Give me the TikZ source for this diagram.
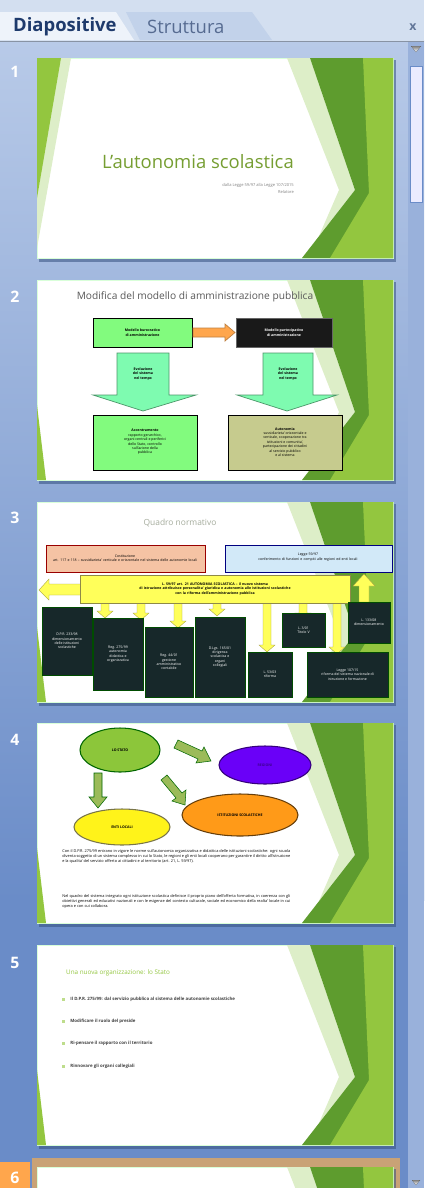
\documentclass[tikz,border=0pt]{standalone}
\usepackage{fontspec}
\setmainfont{Open Sans}
\usetikzlibrary{shapes.geometric,positioning}

\definecolor{tabbar}{HTML}{D3DFF0}
\definecolor{tabon}{HTML}{EEF3FA}
\definecolor{taboff}{HTML}{C2D2EA}
\definecolor{tabink}{HTML}{1E3A6C}
\definecolor{panelhi}{HTML}{B8CAE8}
\definecolor{panello}{HTML}{6A8CC8}
\definecolor{shade}{HTML}{34507E}
\definecolor{leafdark}{HTML}{5E9C2E}
\definecolor{leaflime}{HTML}{93C63F}
\definecolor{leafpale}{HTML}{DDEEC8}
\definecolor{mint}{HTML}{7EFBB0}
\definecolor{apple}{HTML}{82FB7E}
\definecolor{olivebox}{HTML}{C6CB8E}
\definecolor{salmon}{HTML}{F5C3A4}
\definecolor{skybox}{HTML}{D2E9F8}
\definecolor{lemon}{HTML}{FFFF5A}
\definecolor{nightbox}{HTML}{17282A}
\definecolor{arrowolive}{HTML}{9BBB59}
\definecolor{greenov}{HTML}{8CC63A}
\definecolor{violetov}{HTML}{6A00F8}
\definecolor{orangeov}{HTML}{FF9A18}
\definecolor{selframe}{HTML}{C9A276}

\newcommand{\microfont}{\fontsize{2pt}{2.5pt}\selectfont}

\tikzset{
  slidebox/.style={draw=white!85!green, line width=0.4pt, fill=white},
  slideshadow/.style={fill=shade, opacity=0.55},
  slidenum/.style={text=white, font=\bfseries\fontsize{9pt}{9pt}\selectfont},
  tablabel/.style={text=tabink, font=\bfseries\fontsize{10.5pt}{10.5pt}\selectfont},
  darkbox/.style={draw=black!70!green, fill=nightbox, text=white, align=center, font=\microfont},
  yarrow/.style={fill=lemon, draw=yellow!60!black, line width=0.2pt},
  garrow/.style={fill=arrowolive, draw=black!60!green, line width=0.3pt},
  oval/.style={ellipse, draw, line width=0.6pt, font=\bfseries\microfont},
}

% green facet decoration, slide-relative (356 x 200)
\newcommand{\facetright}{%
  \fill[leafpale] (250,0) -- (273,0) -- (318,132) -- (282,178) -- (302,132) -- cycle;
  \fill[leafdark] (273,0) -- (356,0) -- (356,200) -- (265,200) -- (318,132) -- cycle;
  \fill[leaflime] (326,0) -- (356,0) -- (356,200) -- (293,200) -- (332,135) -- cycle;
}
\newcommand{\facetlow}{%
  \fill[leaflime] (0,125) -- (9,200) -- (0,200) -- cycle;
}
% block arrow pointing down
\newcommand{\blockdown}[4]{% x, top, bottom, style
  \draw[#4] (#1-4,#2) -- (#1+4,#2) -- (#1+4,#3-7) -- (#1+8,#3-7) -- (#1,#3)
    -- (#1-8,#3-7) -- (#1-4,#3-7) -- cycle;
}

\begin{document}
\begin{tikzpicture}[x=0.02cm,y=-0.02cm]
  \useasboundingbox (0,0) rectangle (424,1188);

  % panel and scroll bar
  \shade[top color=panelhi, bottom color=panello] (0,40) rectangle (424,900);
  \fill[panello] (0,899) rectangle (424,1188);
  \fill[panelhi!60!panello] (408,40) rectangle (424,1188);
  \fill[shade] (411,46) -- (421,46) -- (416,52) -- cycle;
  \fill[white!92!blue, draw=panello] (410,66) rectangle (422,202);
  \fill[shade] (412,1180) -- (420,1180) -- (416,1185) -- cycle;

  % tabs
  \fill[tabbar] (0,0) rectangle (424,42);
  \fill[taboff] (126,12) -- (252,12) -- (272,40) -- (140,40) -- cycle;
  \fill[tabon] (0,12) -- (116,12) -- (134,40) -- (0,40) -- cycle;
  \draw[taboff!70!black, line width=0.3pt] (0,41) -- (424,41);
  \node[tablabel, anchor=west] (tabslides) at (7,27) {Diapositive};
  \node[tablabel, text=tabink!75!white, font=\fontsize{10.5pt}{10.5pt}\selectfont,
        anchor=west] (taboutline) at (141,27) {Struttura};
  \node[text=tabink!70!white, font=\bfseries\fontsize{7pt}{7pt}\selectfont] (closetab) at (413,27) {x};

  % selected slide 6
  \fill[selframe] (32,1158) rectangle (400,1188);
  \fill[orange!70!white] (0,1162) rectangle (30,1188);

  % slide numbers
  \foreach \n/\yy in {1/72,2/297,3/518,4/740,5/963,6/1178}
    \node[slidenum] (num\n) at (15,\yy) {\n};

  % frames
  \foreach \yy in {58,280,502,723,945,1167} {
    \fill[slideshadow] (39,\yy+2) rectangle (396,\yy+204);
    \draw[slidebox] (37,\yy) rectangle (393,\yy+200);
  }

  % slide 1
  \begin{scope}[shift={(37,58)}]
    \facetright
    \fill[leafpale] (22,0) -- (34,0) -- (0,190) -- (0,140) -- cycle;
    \fill[leaflime] (0,0) -- (24,0) -- (0,140) -- cycle;
    \node[text=leaflime!80!black, font=\fontsize{10.5pt}{10.5pt}\selectfont, anchor=east]
      (title1) at (263,104) {L'autonomia scolastica};
    \node[text=gray, font=\fontsize{2.3pt}{4pt}\selectfont, anchor=north east, align=right]
      (sub1) at ([yshift=-1pt]title1.south east) {dalla Legge 59/97 alla Legge 107/2015\\Relatore};
  \end{scope}

  % slide 2
  \begin{scope}[shift={(37,280)}]
    \facetright
    \facetlow
    \node[text=black!65, font=\fontsize{5.8pt}{5.8pt}\selectfont] (title2) at (158,17)
      {Modifica del modello di amministrazione pubblica};
    \draw[fill=apple, line width=0.5pt] (56,38) rectangle (155,67);
    \node[font=\bfseries\microfont, align=center] (burocr) at (105.5,52.5)
      {Modello burocratico\\di amministrazione};
    \draw[fill=black!90, draw=black!60, line width=0.5pt] (199,38) rectangle (295,67);
    \node[text=white, font=\bfseries\microfont, align=center] (partec) at (247,52.5)
      {Modello partecipativo\\di amministrazione};
    \draw[fill=orange!70, draw=brown, line width=0.4pt] (156,48) -- (188,48) -- (188,44)
      -- (198,52.5) -- (188,61) -- (188,57) -- (156,57) -- cycle;
    \draw[fill=mint, draw=mint!60!black, line width=0.4pt] (80,73) -- (132,73) -- (132,115)
      -- (159,115) -- (106,131) -- (56,115) -- (80,115) -- cycle;
    \draw[fill=mint, draw=mint!60!black, line width=0.4pt] (226,73) -- (276,73) -- (276,115)
      -- (300,115) -- (250,131) -- (200,115) -- (226,115) -- cycle;
    \node[font=\bfseries\microfont, align=center] at (106,94) {Evoluzione\\del sistema\\nel tempo};
    \node[font=\bfseries\microfont, align=center] at (251,94) {Evoluzione\\del sistema\\nel tempo};
    \draw[fill=apple, line width=0.5pt] (56,135) rectangle (160,190);
    \node[font=\microfont, align=center] (accentr) at (108,162)
      {\textbf{Accentramento}\\rapporto gerarchico,\\organi centrali e periferici\\dello Stato, controllo\\sull'azione della\\pubblica};
    \draw[fill=olivebox, line width=0.5pt] (191,135) rectangle (305,190);
    \node[font=\microfont, align=center] (autonom) at (248,162)
      {\textbf{Autonomia}\\sussidiarieta' orizzontale e\\verticale, cooperazione tra\\istituzioni e comunita',\\partecipazione dei cittadini\\al servizio pubblico\\e al sistema};
  \end{scope}

  % slide 3
  \begin{scope}[shift={(37,502)}]
    \facetright
    \facetlow
    \node[text=leafpale!40!gray, font=\fontsize{4.8pt}{4.8pt}\selectfont] (title3) at (143,21)
      {Quadro normativo};
    \draw[fill=salmon, draw=red!60!black, line width=0.4pt] (9,43) rectangle (168,70);
    \node[font=\microfont, align=center, text width=3cm] at (88,56)
      {Costituzione\\art. 117 e 118 -- sussidiarieta' verticale e orizzontale nel sistema delle autonomie locali};
    \draw[fill=skybox, draw=blue!50!black, line width=0.4pt] (188,43) rectangle (355,70);
    \node[font=\microfont, align=center, text width=3.2cm] at (271,55)
      {Legge 59/97\\conferimento di funzioni e compiti alle regioni ed enti locali};
    % yellow arrows
    \draw[yarrow] (45,82) -- (12,82) -- (12,77) -- (2,88) -- (12,98) -- (12,93) -- (45,93) -- cycle;
    \blockdown{68}{98}{116}{yarrow}
    \blockdown{104}{98}{118}{yarrow}
    \blockdown{141}{98}{126}{yarrow}
    \blockdown{180}{98}{114}{yarrow}
    \blockdown{230}{98}{150}{yarrow}
    \blockdown{266}{98}{118}{yarrow}
    \blockdown{300}{98}{152}{yarrow}
    \draw[yarrow] (322,100) -- (322,84) -- (316,84) -- (327,72) -- (338,84) -- (332,84) -- (332,100) -- cycle;
    \draw[fill=lemon, draw=yellow!50!black, line width=0.5pt] (43,73) rectangle (313,101);
    \node[font=\bfseries\microfont, align=center, text width=5.2cm] (law3) at (178,87)
      {L. 59/97 art. 21 AUTONOMIA SCOLASTICA -- il nuovo sistema\\di istruzione attribuisce personalita' giuridica e autonomia alle istituzioni scolastiche\\con la riforma dell'amministrazione pubblica};
    \node[darkbox, minimum width=1cm, minimum height=1.36cm] at (30,139)
      {D.P.R. 233/98\\dimensionamento\\delle istituzioni\\scolastiche};
    \node[darkbox, minimum width=1cm, minimum height=1.44cm] at (81,152)
      {Reg. 275/99\\autonomia\\didattica e\\organizzativa};
    \node[darkbox, minimum width=0.96cm, minimum height=1.4cm] at (132,160)
      {Reg. 44/01\\gestione\\amministrativo\\contabile};
    \node[darkbox, minimum width=1cm, minimum height=1.6cm] at (183,155)
      {D.Lgs. 165/01\\dirigenza\\scolastica e\\organi\\collegiali};
    \node[darkbox, minimum width=0.88cm, minimum height=0.9cm] at (233,172.5)
      {L. 53/03\\riforma};
    \node[darkbox, minimum width=0.86cm, minimum height=0.68cm] at (266.5,128)
      {L. 3/01\\Titolo V};
    \node[darkbox, minimum width=1.62cm, minimum height=0.9cm] at (310.5,172.5)
      {Legge 107/15\\riforma del sistema nazionale di\\istruzione e formazione};
    \node[darkbox, minimum width=0.76cm, minimum height=0.82cm] at (332,120.5)
      {L. 133/08\\dimensionamento};
  \end{scope}

  % slide 4
  \begin{scope}[shift={(37,723)}]
    \facetright
    \facetlow
    \node[oval, fill=greenov, draw=black!60!green,
          minimum width=1.6cm, minimum height=0.88cm] (stato) at (83,27) {LO STATO};
    \node[oval, fill=violetov, draw=violetov!50!black, text=violetov!60!black,
          minimum width=1.84cm, minimum height=0.76cm] (regioni) at (228,42) {REGIONI};
    \node[oval, fill=orangeov, draw=orangeov!40!black,
          minimum width=2.32cm, minimum height=0.84cm] (scuole) at (203,92) {ISTITUZIONI SCOLASTICHE};
    \node[oval, fill=yellow!90!white, draw=yellow!40!black,
          minimum width=1.92cm, minimum height=0.72cm] (enti) at (85,104) {ENTI LOCALI};
    \draw[garrow] (141,17) -- (165,28) -- (167,24) -- (174,38) -- (159,40) -- (161,36) -- (137,25) -- cycle;
    \draw[garrow] (57,50) -- (65,50) -- (65,74) -- (70,74) -- (61,85) -- (52,74) -- (57,74) -- cycle;
    \draw[garrow] (130,52) -- (145,70) -- (149,67) -- (148,82) -- (135,78) -- (139,75) -- (124,57) -- cycle;
    \node[font=\fontsize{2.2pt}{2.9pt}\selectfont, anchor=north west, text width=4.56cm, inner sep=0pt,
          align=justify] (para4a) at (25,126)
      {Con il D.P.R. 275/99 entrano in vigore le norme sull'autonomia organizzativa e didattica delle istituzioni scolastiche: ogni scuola diventa soggetto di un sistema complesso in cui lo Stato, le regioni e gli enti locali cooperano per garantire il diritto all'istruzione e la qualita' del servizio offerto ai cittadini e al territorio (art. 21, L. 59/97).};
    \node[font=\fontsize{2.2pt}{2.9pt}\selectfont, anchor=north west, text width=4.56cm, inner sep=0pt,
          align=justify] (para4b) at (25,171)
      {Nel quadro del sistema integrato ogni istituzione scolastica definisce il proprio piano dell'offerta formativa, in coerenza con gli obiettivi generali ed educativi nazionali e con le esigenze del contesto culturale, sociale ed economico della realta' locale in cui opera e con cui collabora.};
  \end{scope}

  % slide 5
  \begin{scope}[shift={(37,945)}]
    \facetright
    \facetlow
    \node[text=leaflime, font=\fontsize{3.6pt}{3.6pt}\selectfont, anchor=west] (title5) at (23,28)
      {Una nuova organizzazione: lo Stato};
    \foreach \yy/\txt in {54/{Il D.P.R. 275/99: dal servizio pubblico al sistema delle autonomie scolastiche},
                           76/{Modificare il ruolo del preside},
                           98/{Ri-pensare il rapporto con il territorio},
                           121/{Rinnovare gli organi collegiali}} {
      \fill[leaflime!60!white] (25,\yy-1.5) rectangle (28,\yy+1.5);
      \node[font=\bfseries\fontsize{2.5pt}{3pt}\selectfont, text=black!75, anchor=west, inner sep=0pt]
        at (33,\yy) {\txt};
    }
  \end{scope}

  % slide 6 (top visible only)
  \begin{scope}[shift={(37,1167)}]
    \facetright
  \end{scope}
\end{tikzpicture}
\end{document}
